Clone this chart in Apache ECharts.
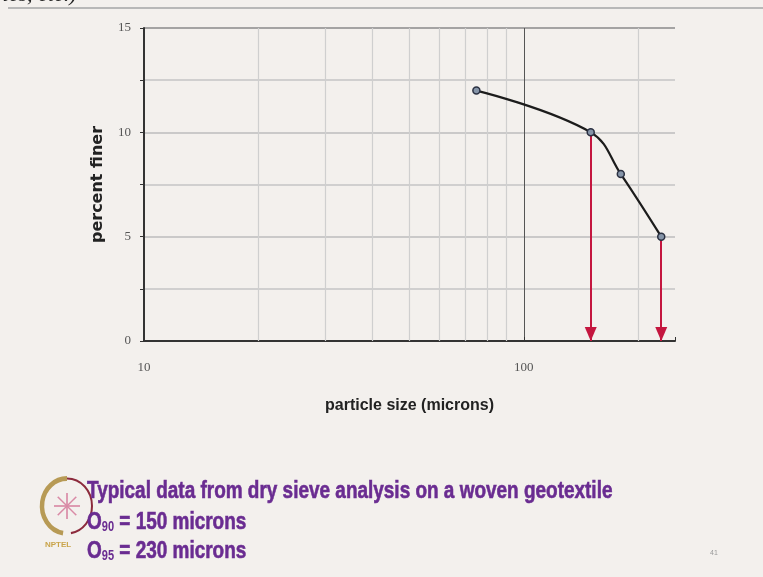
<!DOCTYPE html>
<html>
<head>
<meta charset="utf-8">
<script src="https://cdn.jsdelivr.net/npm/echarts@6/dist/echarts.min.js"></script>
<style>
  html, body { margin: 0; padding: 0; background: #f3f0ed; }
  #chart { width: 763px; height: 577px; }
</style>
</head>
<body>
<div id="chart"></div>
<script>
// particle size (microns) vs percent finer
const sizes = [75, 150, 180, 230]
const finer = [12, 10, 8, 5]
// opening sizes: O90 and O95
const openings = [[150, 10], [230, 5]]
// minor grid lines on the log axis
const minorX = [20, 30, 40, 50, 60, 70, 80, 90, 200]
const yTicks = [0, 5, 10, 15]

const purple = '#6a2c91'
const bodyFont = '"Liberation Sans", Arial, sans-serif'

var myChart = echarts.init(document.getElementById('chart'))

// sub/normal rich styles for the O90 / O95 lines
const richO = {
  o: { fontFamily: bodyFont, fontWeight: 'bold', fontSize: 24, fill: purple, color: purple, stroke: purple, lineWidth: 0.6, verticalAlign: 'bottom' },
  s: { fontFamily: bodyFont, fontWeight: 'bold', fontSize: 14, fill: purple, color: purple, padding: [12, 0, 0, 0], verticalAlign: 'bottom' },
}

var option = {
  backgroundColor: '#f3f0ed',
  animation: false,
  grid: { left: 144, right: 88, top: 28, bottom: 236 },
  xAxis: {
    type: 'log',
    logBase: 10,
    min: 10,
    max: 250,
    name: 'particle size (microns)',
    nameLocation: 'middle',
    nameGap: 57,
    nameTextStyle: { fontFamily: 'Liberation Sans', fontWeight: 'bold', fontSize: 16, color: '#222' },
    axisLine: { show: true, lineStyle: { color: '#333', width: 2 } },
    axisTick: { show: true, inside: true, length: 4, lineStyle: { color: '#333' } },
    axisLabel: {
      margin: 20,
      color: '#555',
      fontFamily: 'Liberation Serif',
      fontSize: 13,
      formatter: (v) => (v === 10 || v === 100 ? String(v) : ''),
    },
    // last line sits on max (250): keep it invisible
    splitLine: { show: true, lineStyle: { color: ['#555', '#555', 'rgba(0,0,0,0)'], width: 1 } },
  },
  yAxis: {
    type: 'value',
    min: 0,
    max: 15,
    interval: 2.5,
    name: 'percent finer',
    nameLocation: 'middle',
    nameGap: 38,
    nameTextStyle: { fontFamily: 'DejaVu Sans', fontWeight: 'bold', fontSize: 16, color: '#222' },
    axisLine: { show: true, lineStyle: { color: '#333', width: 2 } },
    axisTick: { show: true, length: 4, lineStyle: { color: '#333' } },
    axisLabel: {
      margin: 13,
      color: '#555',
      fontFamily: 'Liberation Serif',
      fontSize: 13,
      formatter: (v) => (yTicks.includes(v) ? String(v) : ''),
    },
    splitLine: {
      show: true,
      lineStyle: {
        color: ['#bdbdbd', '#c4c4c4', '#bdbdbd', '#c4c4c4', '#bdbdbd', '#c4c4c4', '#8a8a8a'],
        width: 1.5,
      },
    },
  },
  series: [
    {
      type: 'line',
      data: sizes.map((s, i) => [s, finer[i]]),
      smooth: 0.4,
      symbol: 'circle',
      symbolSize: 7,
      lineStyle: { color: '#1c1c1c', width: 2.2 },
      itemStyle: { color: '#8594a8', borderColor: '#2b3142', borderWidth: 1.5 },
      z: 5,
      markLine: {
        silent: true,
        symbol: 'none',
        label: { show: false },
        lineStyle: { color: '#cfcfcf', width: 1.2, type: 'solid' },
        data: minorX.map((x) => ({ xAxis: x })),
        z: 1,
      },
    },
    {
      type: 'line',
      data: [],
      markLine: {
        silent: true,
        symbol: ['none', 'triangle'],
        symbolSize: [12, 14],
        symbolOffset: [[0, 0], [0, 7]],
        label: { show: false },
        lineStyle: { color: '#c4163f', width: 2, type: 'solid' },
        itemStyle: { color: '#c4163f' },
        data: openings.map(([x, y]) => [{ coord: [x, y] }, { coord: [x, 0] }]),
      },
      z: 4,
    },
  ],
  graphic: [
    // clipped heading of the slide above
    {
      type: 'text', x: -6, y: -16,
      style: { text: 'ries, etc.)', fontFamily: 'Liberation Serif', fontStyle: 'italic', fontSize: 22, fill: '#222' },
    },
    {
      type: 'line',
      shape: { x1: 8, y1: 8, x2: 763, y2: 8 },
      style: { stroke: '#b8b8b8', lineWidth: 2 },
    },
    // NPTEL logo (rough)
    {
      type: 'arc',
      shape: { cx: 67, cy: 506, r: 25, startAngle: Math.PI * 0.55, endAngle: Math.PI * 1.5 },
      scaleY: 1.1, originX: 67, originY: 506,
      style: { stroke: '#b79a55', lineWidth: 4.5, fill: 'none' },
    },
    {
      type: 'arc',
      shape: { cx: 67, cy: 506, r: 25, startAngle: -Math.PI * 0.5, endAngle: Math.PI * 0.45 },
      scaleY: 1.1, originX: 67, originY: 506,
      style: { stroke: '#8c2a3c', lineWidth: 2, fill: 'none' },
    },
    ...[0, 1, 2, 3, 4, 5, 6, 7].map((k) => ({
      type: 'line',
      shape: {
        x1: 67 + 13 * Math.cos((k * Math.PI) / 4), y1: 506 + 13 * Math.sin((k * Math.PI) / 4),
        x2: 67 - 13 * Math.cos((k * Math.PI) / 4), y2: 506 - 13 * Math.sin((k * Math.PI) / 4),
      },
      style: { stroke: '#d98aa6', lineWidth: 1.2 },
    })),
    {
      type: 'text', x: 45, y: 541,
      style: { text: 'NPTEL', fontFamily: 'Liberation Sans', fontWeight: 'bold', fontSize: 8, fill: '#c9a44a' },
    },
    // slide notes (condensed face, so squeeze horizontally)
    {
      type: 'text', x: 87, y: 479, scaleX: 0.79,
      style: {
        text: 'Typical data from dry sieve analysis on a woven geotextile',
        fontFamily: bodyFont, fontWeight: 'bold', fontSize: 24, fill: purple, stroke: purple, lineWidth: 0.6,
      },
    },
    {
      type: 'text', x: 87, y: 508, scaleX: 0.79,
      style: { text: '{o|O}{s|90}{o| = 150 microns}', rich: richO },
    },
    {
      type: 'text', x: 87, y: 537, scaleX: 0.79,
      style: { text: '{o|O}{s|95}{o| = 230 microns}', rich: richO },
    },
    {
      type: 'text', x: 710, y: 550,
      style: { text: '41', fontFamily: 'Liberation Sans', fontSize: 7, fill: '#999' },
    },
  ],
}

myChart.setOption(option)
</script>
</body>
</html>
